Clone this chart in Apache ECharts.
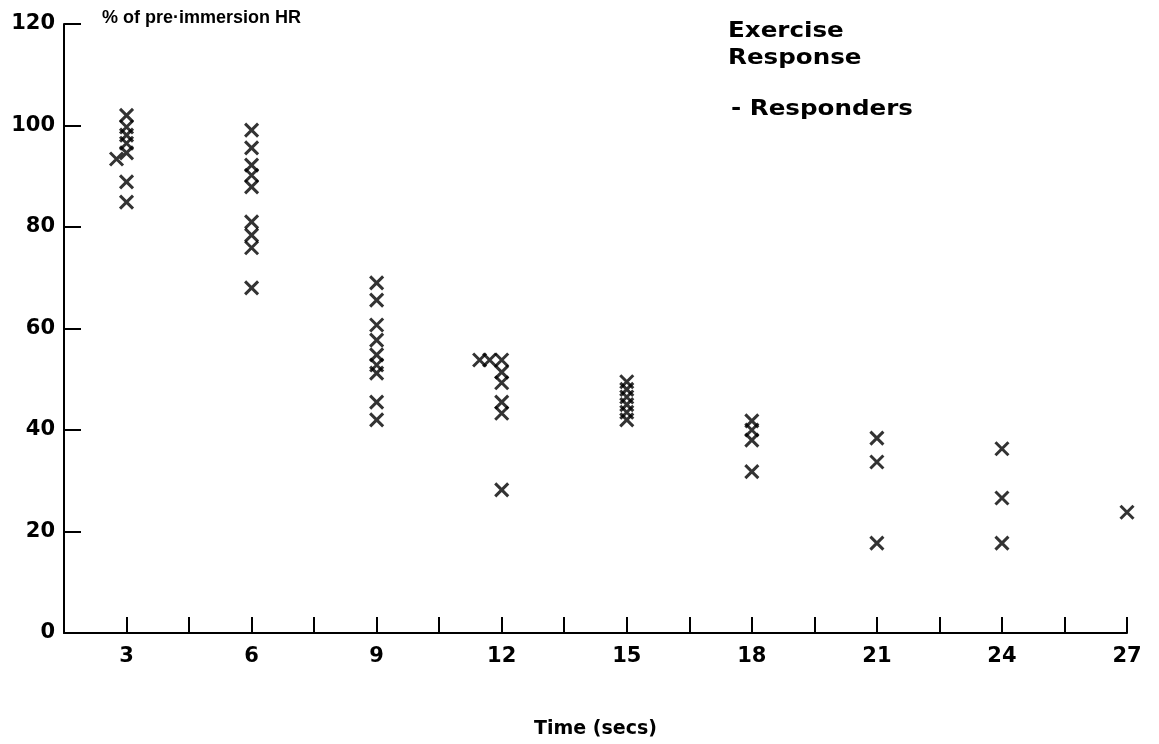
<!DOCTYPE html>
<html>
<head>
<meta charset="utf-8">
<title>Exercise Response - Responders</title>
<script src="https://cdn.jsdelivr.net/npm/echarts@6/dist/echarts.min.js"></script>
<style>
  html, body { margin: 0; padding: 0; background: #fff; }
  #chart { width: 1159px; height: 744px; }
</style>
</head>
<body>
<div id="chart"></div>
<script>
// Heart rate during immersion, as % of the pre-immersion value, for responders.
// Each point is [time (secs), % of pre-immersion HR].
const pointsAt3  = [[3, 102], [3, 99.7], [3, 98.1], [3, 96.5], [3, 94.6], [2.76, 93.4], [3, 88.9], [3, 84.9]];
const pointsAt6  = [[6, 99.1], [6, 95.6], [6, 92.2], [6, 90.2], [6, 87.9], [6, 81.0], [6, 78.4], [6, 75.9], [6, 68.0]];
const pointsAt9  = [[9, 69.0], [9, 65.6], [9, 60.7], [9, 57.7], [9, 54.8], [9, 52.8], [9, 51.2], [9, 45.5], [9, 42.0]];
const pointsAt12 = [[11.47, 53.8], [11.71, 53.8], [12, 53.8], [12, 51.4], [12, 49.3], [12, 45.5], [12, 43.3], [12, 28.2]];
const pointsAt15 = [[15, 49.5], [15, 48.0], [15, 46.5], [15, 45.0], [15, 43.5], [15, 42.0]];
const pointsAt18 = [[18, 41.8], [18, 40.0], [18, 38.0], [18, 31.8]];
const pointsAt21 = [[21, 38.4], [21, 33.7], [21, 17.7]];
const pointsAt24 = [[24, 36.3], [24, 26.6], [24, 17.7]];
const pointsAt27 = [[27, 23.8]];

// Axis ticks
const xLabelValues = [3, 6, 9, 12, 15, 18, 21, 24, 27];
const yTicks = [0, 20, 40, 60, 80, 100, 120];

const allPoints = [].concat(pointsAt3, pointsAt6, pointsAt9, pointsAt12, pointsAt15,
                            pointsAt18, pointsAt21, pointsAt24, pointsAt27);

const ink = '#000';
const wideFont = '"DejaVu Sans", Verdana, sans-serif';
const plainFont = '"Liberation Sans", Arial, Helvetica, sans-serif';

// Wide bold caption text, stretched horizontally like an extended typeface
function caption(text, x, y) {
  return {
    type: 'text', x: x, y: y, scaleX: 1.17, scaleY: 1, originX: 0, originY: 0,
    style: { text: text, fill: ink, font: 'bold 21px ' + wideFont, textVerticalAlign: 'top' }
  };
}

const chart = echarts.init(document.getElementById('chart'), null, { renderer: 'canvas' });

chart.setOption({
  backgroundColor: '#fff',
  animation: false,
  grid: { left: 64, right: 32, top: 24, bottom: 111, containLabel: false },
  xAxis: {
    type: 'value',
    min: 1.5,
    max: 27,
    interval: 1.5,
    name: 'Time (secs)',
    nameLocation: 'middle',
    nameGap: 87,
    nameTextStyle: { color: ink, fontFamily: wideFont, fontWeight: 'bold', fontSize: 19 },
    axisLine: { show: true, lineStyle: { color: ink, width: 2 } },
    axisTick: { show: true, inside: true, length: 16, lineStyle: { color: ink, width: 2 } },
    axisLabel: {
      color: ink, fontFamily: wideFont, fontWeight: 'bold', fontSize: 21, margin: 13,
      formatter: v => (xLabelValues.indexOf(Math.round(v * 10) / 10) >= 0 ? String(v) : '')
    },
    splitLine: { show: false }
  },
  yAxis: {
    type: 'value',
    min: yTicks[0],
    max: yTicks[yTicks.length - 1],
    interval: 20,
    axisLine: { show: true, lineStyle: { color: ink, width: 2 } },
    axisTick: { show: true, inside: true, length: 17, lineStyle: { color: ink, width: 2 } },
    axisLabel: { color: ink, fontFamily: wideFont, fontWeight: 'bold', fontSize: 21, margin: 9 },
    splitLine: { show: false }
  },
  graphic: [
    {
      type: 'text', left: 102, top: 9,
      style: { text: '% of pre\u00b7immersion HR', fill: ink, font: 'bold 18px ' + plainFont }
    },
    caption('Exercise', 728, 21),
    caption('Response', 728, 48),
    caption('- Responders', 731, 99)
  ],
  series: [
    {
      name: 'Responders',
      type: 'scatter',
      data: allPoints,
      symbol: 'path://M0,0L10,10M10,0L0,10',
      symbolSize: 13,
      itemStyle: { color: 'rgba(0,0,0,0)', borderColor: ink, borderWidth: 3 }
    }
  ]
});
</script>
</body>
</html>
